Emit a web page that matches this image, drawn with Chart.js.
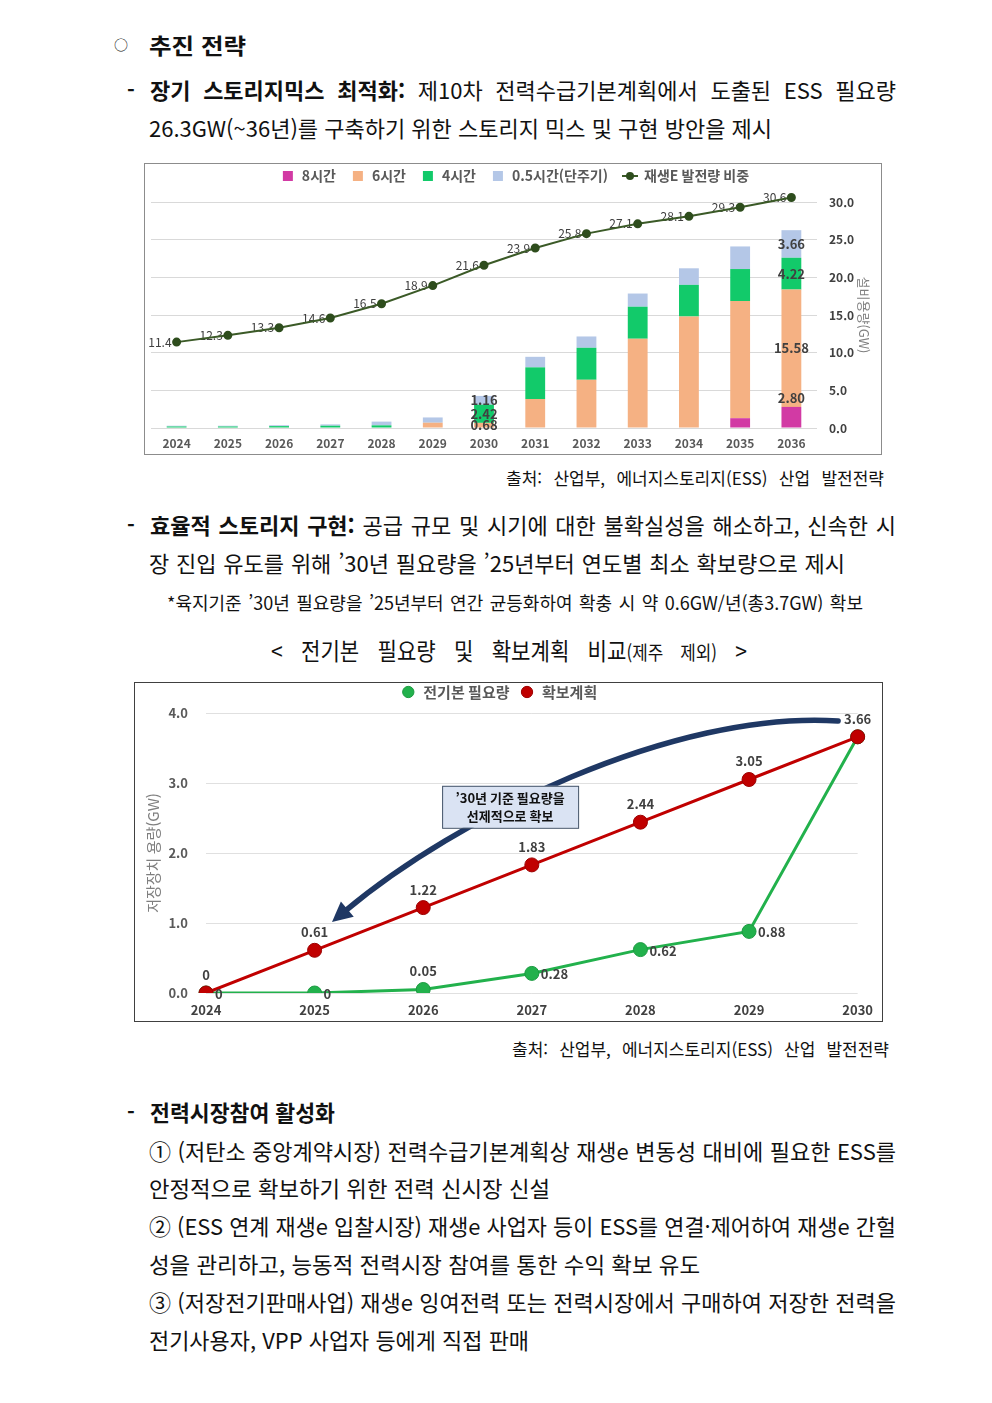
<!DOCTYPE html>
<html lang="ko">
<head>
<meta charset="utf-8">
<title>ESS 추진 전략</title>
<script src="https://cdn.jsdelivr.net/npm/chart.js@4.4.1/dist/chart.umd.min.js"></script>
<style>
  html, body { margin: 0; padding: 0; background: #fff; }
  body { position: relative; width: 992px; height: 1403px; overflow: hidden;
         font-family: "Noto Sans CJK KR", "Noto Sans", sans-serif; color: #111; }
  .ln { position: absolute; white-space: pre; line-height: 1.2; transform-origin: 0 50%; }
  .ln b { font-weight: 700; }
  .ln small { font-size: 0.8em; }
  .box { position: absolute; box-sizing: border-box; background: #fff; }
  .box canvas { position: absolute; left: 0; top: 0; }
</style>
</head>
<body>
<div class="box" style="left:144px;top:163px;width:738px;height:292px;border:1px solid #8c8c8c">
  <canvas id="c1" width="736" height="290"></canvas>
</div>
<div class="box" style="left:134px;top:682px;width:749px;height:340px;border:1px solid #404040">
  <canvas id="c2" width="747" height="338"></canvas>
</div>
<script>
// chart 1 : ESS 설비용량(GW) by duration, 재생E 발전량 비중(%)
const years1 = ['2024', '2025', '2026', '2027', '2028', '2029', '2030', '2031', '2032', '2033', '2034', '2035', '2036'];
const h8  = [0, 0, 0, 0, 0, 0, 0, 0, 0, 0, 0, 1.3, 2.80];
const h6  = [0, 0, 0, 0, 0, 0.7, 0.68, 3.85, 6.4, 11.85, 14.8, 15.55, 15.58];
const h4  = [0.2, 0.2, 0.25, 0.3, 0.35, 0, 2.42, 4.2, 4.25, 4.25, 4.2, 4.25, 4.22];
const h05 = [0.1, 0.1, 0.12, 0.18, 0.5, 0.7, 1.16, 1.4, 1.5, 1.75, 2.2, 3.0, 3.66];
const reShare = [11.4, 12.3, 13.3, 14.6, 16.5, 18.9, 21.6, 23.9, 25.8, 27.1, 28.1, 29.3, 30.6];
const capTicks = [0, 5, 10, 15, 20, 25, 30];
const labelledYears = ['2030', '2036'];

// chart 2 : 전기본 필요량 vs 확보계획 (GW)
const years2 = ['2024', '2025', '2026', '2027', '2028', '2029', '2030'];
const required = [0, 0, 0.05, 0.28, 0.62, 0.88, 3.66];
const plan = [0, 0.61, 1.22, 1.83, 2.44, 3.05, 3.66];
const storTicks = [0, 1, 2, 3, 4];

const FONT = "'Noto Sans CJK KR', 'Noto Sans', sans-serif";
Chart.defaults.font.family = FONT;

// page text, one entry per printed line (x..r = left/right edge, y = middle)
// j: stretch word gaps to fill (after squeezing glyphs by c), n: leave as is
const lines = [
  { h: '○', x: 114, y: 45, s: 14, n: true },
  { h: '<b>추진 전략</b>', x: 149, r: 246, y: 45, s: 22 },
  { h: '<b>-</b>', x: 127, y: 90, s: 21, n: true },
  { h: '<b>장기 스토리지믹스 최적화:</b> 제10차 전력수급기본계획에서 도출된 ESS 필요량', x: 150, r: 896, y: 90, s: 22, j: true },
  { h: '26.3GW(~36년)를 구축하기 위한 스토리지 믹스 및 구현 방안을 제시', x: 149, r: 772, y: 128, s: 22 },
  { h: '출처: 산업부, 에너지스토리지(ESS) 산업 발전전략', x: 506, r: 884, y: 479, s: 17, j: true },
  { h: '<b>-</b>', x: 127, y: 525, s: 21, n: true },
  { h: '<b>효율적 스토리지 구현:</b> 공급 규모 및 시기에 대한 불확실성을 해소하고, 신속한 시', x: 150, r: 896, y: 525, s: 22, j: true },
  { h: '장 진입 유도를 위해 ’30년 필요량을 ’25년부터 연도별 최소 확보량으로 제시', x: 149, r: 845, y: 563, s: 22, j: true },
  { h: '*육지기준 ’30년 필요량을 ’25년부터 연간 균등화하여 확충 시 약 0.6GW/년(총3.7GW) 확보', x: 167, r: 863, y: 603, s: 18, j: true },
  { h: '&lt; 전기본 필요량 및 확보계획 비교<small>(제주 제외)</small> &gt;', x: 271, r: 747, y: 651, s: 24, j: true, c: 0.88 },
  { h: '출처: 산업부, 에너지스토리지(ESS) 산업 발전전략', x: 512, r: 889, y: 1050, s: 17, j: true },
  { h: '<b>-</b>', x: 127, y: 1112, s: 21, n: true },
  { h: '<b>전력시장참여 활성화</b>', x: 150, r: 335, y: 1112, s: 22 },
  { h: '① (저탄소 중앙계약시장) 전력수급기본계획상 재생e 변동성 대비에 필요한 ESS를', x: 149, r: 896, y: 1151, s: 22, j: true },
  { h: '안정적으로 확보하기 위한 전력 신시장 신설', x: 149, r: 550, y: 1188, s: 22 },
  { h: '② (ESS 연계 재생e 입찰시장) 재생e 사업자 등이 ESS를 연결·제어하여 재생e 간헐', x: 149, r: 896, y: 1226, s: 22, j: true },
  { h: '성을 관리하고, 능동적 전력시장 참여를 통한 수익 확보 유도', x: 149, r: 700, y: 1264, s: 22 },
  { h: '③ (저장전기판매사업) 재생e 잉여전력 또는 전력시장에서 구매하여 저장한 전력을', x: 149, r: 896, y: 1302, s: 22, j: true },
  { h: '전기사용자, VPP 사업자 등에게 직접 판매', x: 149, r: 529, y: 1340, s: 22 }
];

lines.forEach(l => {
  const el = document.createElement('div');
  el.className = 'ln';
  el.innerHTML = l.h;
  el.style.fontSize = l.s + 'px';
  el.style.left = l.x + 'px';
  el.style.top = (l.y - l.s * 0.62) + 'px';
  document.body.appendChild(el);
  if (l.n) return;
  const w = el.getBoundingClientRect().width;
  const target = l.r - l.x;
  const gaps = (el.textContent.match(/ /g) || []).length;
  const c = l.c || 1;
  if (l.j && gaps && w * c < target) {
    el.style.wordSpacing = ((target / c - w) / gaps) + 'px';
    el.style.transform = 'scaleX(' + c + ')';
  } else {
    el.style.transform = 'scaleX(' + (target / w) + ')';
  }
});

// legend sits higher than chart.js would put it; give back the room below it
const legendRoom = extra => ({
  id: 'legendRoom',
  beforeInit(chart) {
    const fit = chart.legend.fit;
    chart.legend.fit = function () { fit.call(this); this.height += extra; };
  }
});

// small "line with dot" legend marker for the share series
const lineMark = document.createElement('canvas');
lineMark.width = 16; lineMark.height = 10;
(() => {
  const g = lineMark.getContext('2d');
  g.strokeStyle = '#3b5a27'; g.lineWidth = 2;
  g.beginPath(); g.moveTo(0, 5); g.lineTo(16, 5); g.stroke();
  g.fillStyle = '#2e4d1d';
  g.beginPath(); g.arc(8, 5, 4, 0, Math.PI * 2); g.fill();
})();

// ---------- chart 1 ----------
const labels1 = {
  id: 'labels1',
  beforeDatasetsDraw(chart) {
    const ctx = chart.ctx;
    ctx.save();
    ctx.font = '12px ' + FONT;
    ctx.fillStyle = '#404040';
    ctx.textAlign = 'right';
    ctx.textBaseline = 'middle';
    chart.getDatasetMeta(4).data.forEach((p, i) => ctx.fillText(reShare[i].toFixed(1), p.x - 5, p.y));
    ctx.restore();
  },
  afterDatasetsDraw(chart) {
    const ctx = chart.ctx;
    ctx.save();
    ctx.font = 'bold 13px ' + FONT;
    ctx.fillStyle = '#404040';
    ctx.textAlign = 'center';
    ctx.textBaseline = 'middle';
    labelledYears.forEach(yr => {
      const i = years1.indexOf(yr);
      for (let d = 0; d < 4; d++) {
        const v = chart.data.datasets[d].data[i];
        if (!v) continue;
        const el = chart.getDatasetMeta(d).data[i];
        const y = d === 0 ? el.y - 9 : (el.y + el.base) / 2;
        ctx.fillText(v.toFixed(2), el.x, y);
      }
    });
    ctx.restore();
  }
};

const barDs = (label, data, color) => ({
  type: 'bar', label, data, backgroundColor: color, stack: 'ess', order: 1,
  barPercentage: 0.43, categoryPercentage: 0.9
});

new Chart(document.getElementById('c1'), {
  type: 'bar',
  data: {
    labels: years1,
    datasets: [
      barDs('8시간', h8, '#d23aa4'),
      barDs('6시간', h6, '#f5b183'),
      barDs('4시간', h4, '#12ca6a'),
      barDs('0.5시간(단주기)', h05, '#b4c7e7'),
      {
        type: 'line', label: '재생E 발전량 비중', data: reShare, stack: 'share', order: 0,
        borderColor: '#3b5a27', borderWidth: 2, pointRadius: 3.5, pointBackgroundColor: '#2e4d1d',
        pointBorderColor: '#2e4d1d', tension: 0, clip: false
      }
    ]
  },
  options: {
    responsive: false,
    animation: false,
    layout: { padding: { left: 4, right: 0, top: -10, bottom: 0 } },
    plugins: {
      tooltip: { enabled: false },
      legend: {
        position: 'top',
        labels: {
          usePointStyle: true,
          boxHeight: 10,
          padding: 15,
          color: '#595959',
          font: { size: 14, weight: 'bold' },
          sort: (a, b) => a.datasetIndex - b.datasetIndex,
          generateLabels: ch => Chart.defaults.plugins.legend.labels.generateLabels(ch).map(l => ({
            ...l, pointStyle: l.datasetIndex < 4 ? 'rect' : lineMark, lineWidth: 0
          }))
        }
      }
    },
    scales: {
      x: {
        stacked: true,
        grid: { display: false, drawTicks: false },
        border: { display: false },
        ticks: { color: '#595959', font: { size: 12, weight: 'bold' }, padding: 8 },
        afterFit: s => { s.height = 26; }
      },
      y: {
        stacked: true,
        position: 'right',
        min: 0, max: 30,
        afterBuildTicks: s => { s.ticks = capTicks.map(v => ({ value: v })); },
        grid: { color: '#d9d9d9', drawTicks: false },
        border: { display: false },
        ticks: { color: '#404040', font: { size: 12, weight: 'bold' }, padding: 12, callback: v => v.toFixed(1) },
        title: { display: true, text: '설비용량(GW)', color: '#7f7f7f', font: { size: 13 }, padding: { top: 9, bottom: 0 } },
        afterFit: s => { s.width = 64; }
      }
    }
  },
  plugins: [labels1, legendRoom(9)]
});

// ---------- chart 2 ----------
const labels2 = {
  id: 'labels2',
  afterDatasetsDraw(chart) {
    const ctx = chart.ctx;
    const xs = chart.scales.x, ys = chart.scales.y;
    const P = (i, v) => [xs.getPixelForValue(i), ys.getPixelForValue(v)];
    ctx.save();
    // curved arrow: the '30 requirement pulled forward
    const p0 = P(5.82, 3.886), p1 = P(4.3, 4.04), p2 = P(2.3, 2.5), p3 = P(1.28, 1.17);
    ctx.strokeStyle = '#1f3864';
    ctx.fillStyle = '#1f3864';
    ctx.lineWidth = 5.5;
    ctx.lineCap = 'round';
    ctx.beginPath();
    ctx.moveTo(p0[0], p0[1]);
    ctx.bezierCurveTo(p1[0], p1[1], p2[0], p2[1], p3[0], p3[1]);
    ctx.stroke();
    const dx = p3[0] - p2[0], dy = p3[1] - p2[1], len = Math.hypot(dx, dy);
    const ux = dx / len, uy = dy / len;
    ctx.beginPath();
    ctx.moveTo(p3[0] + ux * 17, p3[1] + uy * 17);
    ctx.lineTo(p3[0] - ux * 3 - uy * 10, p3[1] - uy * 3 + ux * 10);
    ctx.lineTo(p3[0] - ux * 3 + uy * 10, p3[1] - uy * 3 - ux * 10);
    ctx.closePath();
    ctx.fill();
    // callout box
    const c = P(2.8, 2.66);
    ctx.fillStyle = '#dae3f3';
    ctx.strokeStyle = '#44546a';
    ctx.lineWidth = 1;
    ctx.fillRect(c[0] - 68, c[1] - 21, 136, 42);
    ctx.strokeRect(c[0] - 68 + 0.5, c[1] - 21 + 0.5, 136, 42);
    ctx.fillStyle = '#111';
    ctx.font = 'bold 13px ' + FONT;
    ctx.textAlign = 'center';
    ctx.textBaseline = 'middle';
    ctx.fillText('’30년 기준 필요량을', c[0], c[1] - 9);
    ctx.fillText('선제적으로 확보', c[0], c[1] + 9);
    // value labels
    ctx.fillStyle = '#404040';
    ctx.font = 'bold 13px ' + FONT;
    chart.getDatasetMeta(1).data.forEach((p, i) => {
      ctx.textAlign = 'center';
      ctx.fillText(String(plan[i]), p.x, p.y - 18);
    });
    chart.getDatasetMeta(0).data.forEach((p, i) => {
      if (i === years2.length - 1) return;
      if (i === 2) {
        ctx.textAlign = 'center';
        ctx.fillText(String(required[i]), p.x, p.y - 18);
      } else {
        ctx.textAlign = 'left';
        ctx.fillText(String(required[i]), p.x + 9, p.y + 1);
      }
    });
    ctx.restore();
  }
};

new Chart(document.getElementById('c2'), {
  type: 'line',
  data: {
    labels: years2,
    datasets: [
      {
        label: '전기본 필요량', data: required, order: 1,
        borderColor: '#22b14c', borderWidth: 3, tension: 0,
        pointRadius: 7, pointBackgroundColor: '#22b14c', pointBorderColor: '#1c9a41', pointBorderWidth: 1
      },
      {
        label: '확보계획', data: plan, order: 0,
        borderColor: '#c00000', borderWidth: 3, tension: 0,
        pointRadius: 7, pointBackgroundColor: '#c00000', pointBorderColor: '#9c0000', pointBorderWidth: 1
      }
    ]
  },
  options: {
    responsive: false,
    animation: false,
    layout: { padding: { left: 0, right: 19, top: -8.5, bottom: 0 } },
    plugins: {
      tooltip: { enabled: false },
      legend: {
        position: 'top',
        labels: {
          usePointStyle: true,
          pointStyle: 'circle',
          boxHeight: 8,
          padding: 10,
          color: '#595959',
          font: { size: 15, weight: 'bold' },
          sort: (a, b) => a.datasetIndex - b.datasetIndex
        }
      }
    },
    scales: {
      x: {
        offset: false,
        grid: { display: false, drawTicks: false },
        border: { display: false },
        ticks: { color: '#404040', font: { size: 13, weight: 'bold' }, padding: 9 },
        afterFit: s => { s.height = 28; }
      },
      y: {
        min: 0, max: 4,
        afterBuildTicks: s => { s.ticks = storTicks.map(v => ({ value: v })); },
        grid: { color: '#e0e0e0', drawTicks: false },
        border: { display: false },
        ticks: { color: '#595959', font: { size: 13, weight: 'bold' }, padding: 18, callback: v => v.toFixed(1) },
        title: { display: true, text: '저장장치 용량(GW)', color: '#7f7f7f', font: { size: 15 }, padding: { top: 9, bottom: 0 } },
        afterFit: s => { s.width = 71; }
      }
    }
  },
  plugins: [labels2, legendRoom(3.5)]
});
</script>
</body>
</html>
